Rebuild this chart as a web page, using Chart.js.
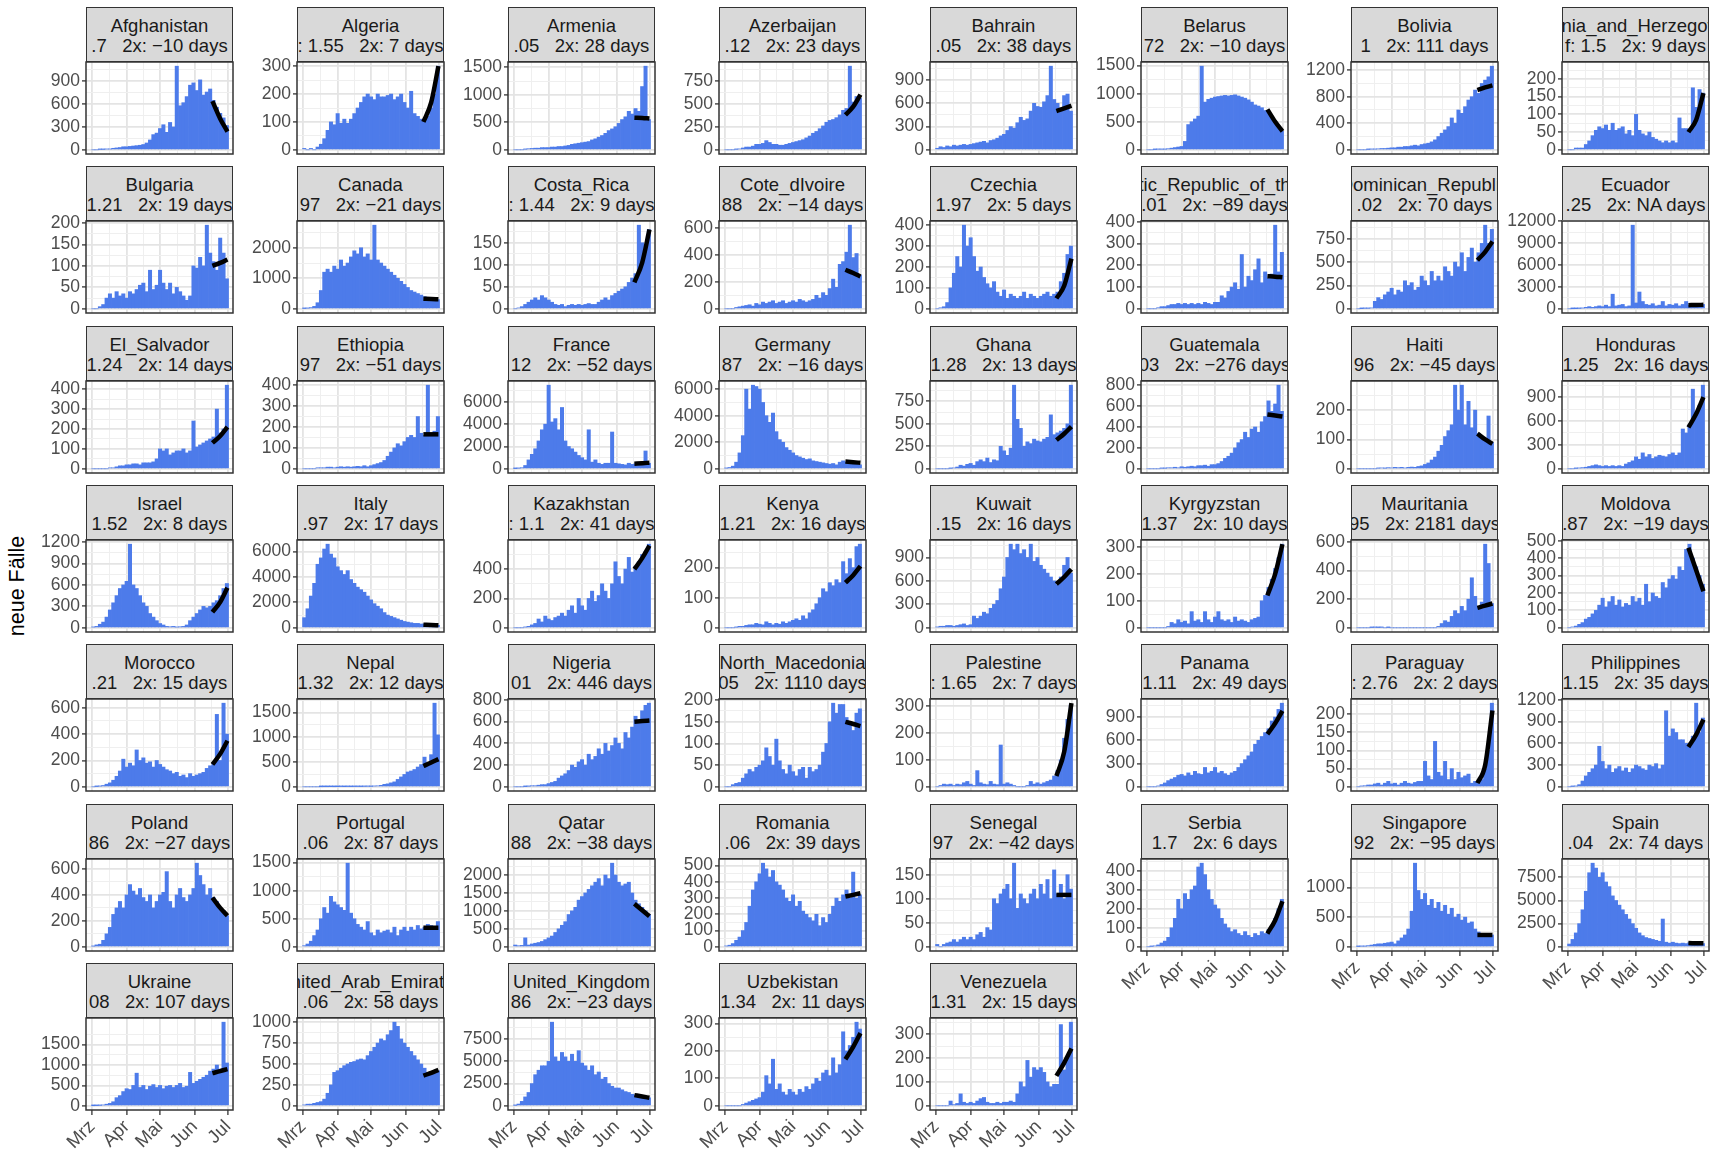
<!DOCTYPE html>
<html><head><meta charset="utf-8">
<script src="https://cdn.jsdelivr.net/npm/chart.js@4.4.0/dist/chart.umd.min.js"></script>
<style>
html,body{margin:0;padding:0;background:#fff;overflow:hidden;}
#fig{position:relative;width:1719px;height:1155px;font-family:'Liberation Sans',Arial,Helvetica,sans-serif;}
.strip{position:absolute;box-sizing:border-box;border:1.5px solid #333;background:#D9D9D9;overflow:hidden;display:flex;flex-direction:column;justify-content:center;padding-top:2px;color:#1A1A1A;font-size:18.5px;}
.strip .ln{display:flex;justify-content:center;white-space:pre;line-height:19.5px;}
canvas{position:absolute;}
#ylab{position:absolute;left:17px;top:586px;transform:translate(-50%,-50%) rotate(-90deg);font-size:21.5px;white-space:nowrap;color:#000;}
</style></head><body><div id="fig"><div id="ylab">neue Fälle</div></div>
<script>
// ---------- data ----------
const countries = ['Afghanistan','Algeria','Armenia','Azerbaijan','Bahrain','Belarus','Bolivia','Bosnia_and_Herzegovina',
'Bulgaria','Canada','Costa_Rica','Cote_dIvoire','Czechia','Democratic_Republic_of_the_Congo','Dominican_Republic','Ecuador',
'El_Salvador','Ethiopia','France','Germany','Ghana','Guatemala','Haiti','Honduras',
'Israel','Italy','Kazakhstan','Kenya','Kuwait','Kyrgyzstan','Mauritania','Moldova',
'Morocco','Nepal','Nigeria','North_Macedonia','Palestine','Panama','Paraguay','Philippines',
'Poland','Portugal','Qatar','Romania','Senegal','Serbia','Singapore','Spain',
'Ukraine','United_Arab_Emirates','United_Kingdom','Uzbekistan','Venezuela'];

const infoLines = ['.7   2x: \u221210 days',': 1.55   2x: 7 days','.05   2x: 28 days','.12   2x: 23 days','.05   2x: 38 days','72   2x: \u221210 days','1   2x: 111 days','f: 1.5   2x: 9 days',
'1.21   2x: 19 days','97   2x: \u221221 days',': 1.44   2x: 9 days','88   2x: \u221214 days','1.97   2x: 5 days','.01   2x: \u221289 days','.02   2x: 70 days','.25   2x: NA days',
'1.24   2x: 14 days','97   2x: \u221251 days','12   2x: \u221252 days','87   2x: \u221216 days','1.28   2x: 13 days','03   2x: \u2212276 days','96   2x: \u221245 days','1.25   2x: 16 days',
'1.52   2x: 8 days','.97   2x: 17 days',': 1.1   2x: 41 days','1.21   2x: 16 days','.15   2x: 16 days','1.37   2x: 10 days','95   2x: 2181 days','.87   2x: \u221219 days',
'.21   2x: 15 days','1.32   2x: 12 days','01   2x: 446 days','05   2x: 1110 days',': 1.65   2x: 7 days','1.11   2x: 49 days',': 2.76   2x: 2 days','1.15   2x: 35 days',
'86   2x: \u221227 days','.06   2x: 87 days','88   2x: \u221238 days','.06   2x: 39 days','97   2x: \u221242 days','1.7   2x: 6 days','92   2x: \u221295 days','.04   2x: 74 days',
'08   2x: 107 days','.06   2x: 58 days','86   2x: \u221223 days','1.34   2x: 11 days','1.31   2x: 15 days'];

const yTicks = [[0,300,600,900],[0,100,200,300],[0,500,1000,1500],[0,250,500,750],[0,300,600,900],[0,500,1000,1500],[0,400,800,1200],[0,50,100,150,200],
[0,50,100,150,200],[0,1000,2000],[0,50,100,150],[0,200,400,600],[0,100,200,300,400],[0,100,200,300,400],[0,250,500,750],[0,3000,6000,9000,12000],
[0,100,200,300,400],[0,100,200,300,400],[0,2000,4000,6000],[0,2000,4000,6000],[0,250,500,750],[0,200,400,600,800],[0,100,200],[0,300,600,900],
[0,300,600,900,1200],[0,2000,4000,6000],[0,200,400],[0,100,200],[0,300,600,900],[0,100,200,300],[0,200,400,600],[0,100,200,300,400,500],
[0,200,400,600],[0,500,1000,1500],[0,200,400,600,800],[0,50,100,150,200],[0,100,200,300],[0,300,600,900],[0,50,100,150,200],[0,300,600,900,1200],
[0,200,400,600],[0,500,1000,1500],[0,500,1000,1500,2000],[0,100,200,300,400,500],[0,50,100,150],[0,100,200,300,400],[0,500,1000],[0,2500,5000,7500],
[0,500,1000,1500],[0,250,500,750,1000],[0,2500,5000,7500],[0,100,200,300],[0,100,200,300]];

// upper data limit read from the picture where the visible bars do not reach it
const axisTopOverride = {Bosnia_and_Herzegovina: 236};

// day number (0 = 1 March) at the centre of each 3-day bar
const barDays = [1,4,7,10,13,16,19,22,25,28,31,34,37,40,43,46,49,52,55,58,61,64,67,70,73,76,79,82,85,88,91,94,97,100,103,106,109,112,115,118,121];
const monthDays = [0,31,61,92,122];
const monthLabels = ['Mrz','Apr','Mai','Jun','Jul'];
const trendDays = [108,115,121.5];

const afghanistan = [0,0,5,5,10,10,20,25,30,40, 40,45,50,55,60,70,90,130,200,220, 280,330,230,360,300,1100,580,620,700,850, 880,780,920,720,760,800,650,560,480,420, 320];
const algeria = [5,0,5,0,10,20,40,70,100,90, 130,95,110,95,110,130,150,170,190,200, 190,180,200,190,190,195,200,180,190,200, 170,150,210,130,120,110,110,120,150,200, 300];
const armenia = [0,0,0,10,20,25,30,30,40,40, 40,50,50,60,60,70,80,100,110,120, 130,140,150,180,200,230,260,300,350,380, 420,480,550,600,700,650,750,700,1150,1520, 550];
const azerbaijan = [0,0,0,5,10,20,30,30,40,60, 60,70,100,80,60,60,50,50,60,70, 80,90,100,110,130,150,180,200,230,260, 300,320,330,350,380,430,450,910,520,580, 560];
const bahrain = [20,40,30,50,40,60,50,60,70,60, 70,80,90,100,110,90,120,130,150,180, 200,250,300,280,350,420,380,400,500,600, 560,550,620,700,1080,650,600,540,700,720, 500];
const belarus = [0,0,5,10,10,10,20,30,40,50, 60,150,450,500,550,600,1490,850,900,920, 940,950,960,970,960,970,980,960,940,920, 890,850,800,780,750,700,650,560,480,400, 330];
const bolivia = [0,0,0,5,10,10,15,20,20,25, 30,30,40,40,50,50,60,70,60,80, 90,100,120,150,200,250,300,350,480,400, 600,550,650,750,800,900,850,1000,1050,1100, 1260];
const bosnia = [0,0,5,5,5,15,25,40,55,65, 60,70,55,75,55,60,65,45,55,40, 100,55,45,40,50,35,30,25,20,25, 20,25,20,90,60,60,55,175,120,170, 160];
const bulgaria = [0,0,5,10,25,35,25,40,30,35, 25,40,35,45,55,60,40,90,45,55, 90,60,45,60,35,50,40,30,20,30, 100,95,120,100,195,130,110,90,165,130, 70];
const canada = [10,20,40,80,200,600,1200,1300,1200,1400, 1300,1600,1400,1500,1700,1900,1800,2000,1700,1800, 1600,2740,1600,1500,1400,1300,1200,1100,1000,900, 800,700,600,550,500,450,400,350,330,320, 300];
const costaRica = [0,2,5,10,15,20,25,20,30,25, 20,15,10,8,10,5,8,10,8,10, 8,10,12,10,10,15,20,25,20,30, 35,40,45,50,60,70,80,190,150,130, 180];
const coteDivoire = [0,0,0,10,15,20,25,30,20,40, 30,50,40,50,60,40,50,60,40,50, 60,50,70,60,50,60,70,100,80,120, 100,150,220,160,330,350,420,620,380,410, 250];
const czechia = [0,5,10,30,100,170,250,200,400,300, 340,250,180,200,150,120,100,130,80,60, 90,50,70,60,50,60,80,50,70,60, 50,60,70,80,60,70,80,130,170,260, 300];
const drCongo = [0,0,0,5,10,10,15,20,20,25, 20,25,20,25,20,25,20,30,25,20, 30,30,60,50,80,100,120,90,250,100, 150,130,180,230,120,170,140,160,385,170, 260];
const dominican = [0,2,5,5,10,80,120,100,150,180, 220,150,200,180,300,250,280,200,230,350, 300,250,400,300,350,300,450,400,350,500, 450,600,400,550,650,500,600,700,895,700, 850];
const ecuador = [0,10,20,50,100,200,300,200,300,400, 300,500,300,2000,400,500,600,300,400,11450, 800,2300,1000,600,500,700,400,500,1000,400, 600,500,700,400,600,1000,500,600,500,700, 600];
const elSalvador = [0,0,0,0,0,5,5,10,15,15, 20,20,25,25,20,30,30,30,35,50, 100,90,100,70,80,90,90,100,80,90, 240,110,120,130,140,150,160,300,180,200, 420];
const ethiopia = [0,0,0,0,5,5,5,8,8,5, 8,10,8,10,8,10,12,10,15,10, 15,20,25,30,40,60,80,100,120,110, 130,150,160,150,250,170,160,400,170,180, 250];
const france = [20,50,100,300,800,1300,1800,2500,3500,4000, 7500,4200,4500,3500,5500,2500,2000,1800,1500,1200, 1000,800,3500,600,800,500,400,500,500,3300, 500,450,400,350,500,400,450,500,600,1600, 500];
const germany = [50,100,200,500,1200,2500,6000,4500,6300,6200, 6000,5000,4000,3500,4200,2800,2200,2000,1600,1400, 1200,1000,900,800,700,750,600,550,500,450, 400,350,400,300,500,600,500,450,400,350, 300];
const ghana = [0,0,0,0,5,10,20,40,30,50, 60,40,80,100,80,120,70,100,90,250, 200,150,230,930,550,450,250,300,280,330, 310,300,330,350,600,380,400,420,450,500, 930];
const guatemala = [0,0,0,0,5,5,10,10,15,10, 20,15,20,25,20,30,30,35,25,40, 40,50,70,100,120,150,200,250,280,350, 300,380,400,350,450,500,650,550,620,800, 550];
const haiti = [0,0,0,0,0,0,2,3,2,4, 3,5,4,5,3,5,6,5,8,10, 15,20,30,40,60,80,110,130,150,285, 200,285,150,230,140,200,120,110,100,180, 90];
const honduras = [0,0,5,10,15,20,30,40,50,40, 30,40,30,40,30,40,30,60,80,100, 150,120,200,150,180,130,150,170,160,150, 180,200,170,200,500,450,550,1000,700,800, 1050];
const israel = [10,20,50,80,150,250,350,450,550,600, 650,1170,600,550,450,350,300,200,150,100, 60,40,20,15,20,10,15,20,40,100, 150,200,250,300,280,300,350,380,450,550, 620];
const italy = [800,1500,2500,3500,5000,5500,6200,6580,5800,5500, 4800,4500,4200,4500,3800,3500,3200,3000,2800,2500, 2200,1900,1700,1500,1200,1000,900,800,700,600, 500,450,400,350,350,300,300,300,250,250, 200];
const kazakhstan = [0,0,0,5,10,20,30,60,40,80, 60,50,70,80,100,80,120,150,100,200, 150,120,200,250,180,220,300,250,200,300, 450,350,300,400,480,380,420,450,500,520, 570];
const kenya = [0,0,0,2,5,5,8,10,10,15, 12,10,20,15,10,15,12,20,15,20, 25,30,25,40,30,50,60,80,100,130, 120,150,140,160,150,220,180,230,200,270, 278];
const kuwait = [10,20,20,30,30,20,30,40,50,30, 40,150,120,150,200,180,250,300,350,500, 650,900,1070,1000,1070,950,1000,900,1070,850, 900,800,750,700,650,600,550,650,800,900, 700];
const kyrgyzstan = [0,0,0,0,0,0,5,20,15,30, 20,25,15,60,25,30,20,60,30,20, 40,60,30,25,30,20,40,25,30,25, 20,30,35,40,100,120,150,180,220,260, 310];
const mauritania = [0,0,0,0,2,3,2,3,0,2, 0,0,0,0,0,0,0,0,0,0, 0,0,0,0,10,30,50,40,80,120, 100,150,120,200,350,220,150,180,585,450, 170];
const moldova = [0,5,10,20,30,50,60,80,100,130, 170,120,150,180,130,160,120,140,130,180, 150,170,130,250,150,200,180,170,260,230, 280,300,280,350,330,450,480,400,350,300, 250];
const morocco = [0,2,5,10,20,30,50,80,120,210, 150,180,160,280,200,220,180,190,150,200, 170,150,130,120,100,110,80,90,70,100, 80,90,100,110,140,160,180,550,200,635, 400];
const nepal = [0,0,0,0,0,1,2,2,3,2, 3,5,3,5,4,5,6,5,8,10, 8,15,20,30,50,60,80,100,150,200, 250,300,320,350,400,450,600,450,650,1690, 1050];
const nigeria = [0,0,0,2,5,10,10,15,20,20, 30,40,50,80,100,120,150,200,180,230, 250,200,300,250,280,350,300,400,330,380, 450,400,350,500,450,550,650,600,700,750, 770];
const northMacedonia = [0,0,5,8,10,20,30,40,35,45, 50,60,90,70,50,110,60,40,30,50, 35,25,40,45,20,45,35,40,50,80, 100,150,193,170,190,190,160,150,130,170, 180];
const palestine = [0,5,10,8,10,5,10,8,15,20, 10,5,60,15,10,8,20,10,8,155, 10,15,10,5,0,0,0,5,20,10, 15,10,15,20,25,40,60,100,180,250, 305];
const panama = [0,0,0,10,30,50,80,100,120,150, 160,140,180,150,200,170,160,250,180,200, 250,180,200,170,150,180,200,250,300,350, 400,450,550,600,650,700,750,850,900,1000, 1080];
const paraguay = [0,2,3,5,5,8,10,5,10,15, 8,10,5,10,15,10,8,12,15,15, 70,30,20,125,40,30,70,20,50,20, 40,25,30,35,10,15,10,20,50,100, 230];
const philippines = [0,5,10,30,80,150,200,250,300,560, 350,250,300,200,250,280,220,260,200,250, 300,280,250,230,300,280,320,250,300,1050, 700,800,750,650,650,600,550,700,1155,750, 950];
const poland = [5,15,20,50,100,150,250,300,350,300, 400,480,430,400,450,380,350,400,300,350, 400,420,580,350,300,400,450,380,350,400, 450,645,550,480,400,450,380,350,300,280, 240];
const portugal = [20,50,100,200,300,500,700,600,900,800, 750,700,650,1490,600,500,400,350,300,450, 250,200,300,250,280,300,250,350,200,300, 350,280,350,300,380,320,350,400,380,350, 450];
const qatar = [50,30,40,250,50,80,100,120,150,200, 250,300,400,500,600,700,900,1000,1100,1300, 1400,1500,1600,1700,1800,1900,1700,2000,1900,2330, 2000,1800,1700,1750,1800,1500,1300,1200,1100,1000, 900];
const romania = [5,10,20,40,60,100,150,250,350,400, 450,515,480,430,470,400,380,350,300,280, 320,250,280,220,200,180,160,200,130,180, 150,200,250,300,280,320,350,300,460,300, 320];
const senegal = [5,0,5,8,10,15,10,15,20,15, 20,15,25,30,20,40,35,100,90,110, 120,130,100,174,80,110,100,90,110,120, 100,130,110,140,100,160,110,130,100,150, 120];
const serbia = [0,2,5,10,20,30,50,100,150,250, 200,280,250,300,320,420,440,380,300,250, 220,200,150,120,100,80,90,70,60,80, 60,50,70,60,80,70,90,100,150,200, 250];
const singapore = [5,10,10,20,30,40,50,50,60,70, 80,50,100,150,200,300,600,1410,950,800, 900,700,800,650,750,600,700,550,650,500, 550,450,500,400,420,300,250,200,200,220, 200];
const spain = [300,800,1500,2500,4000,6000,8000,9030,8500,7500, 8000,7000,6500,5500,5000,4500,4000,3500,3000,2500, 2000,1500,1200,1000,900,800,700,600,3000,500, 400,500,400,350,400,350,450,400,350,400, 350];
const ukraine = [2,5,10,20,40,60,100,200,250,350, 420,400,500,800,450,500,400,480,520,450, 500,420,480,500,450,500,550,450,480,820, 550,600,650,700,750,850,900,1000,900,2050, 1050];
const uae = [10,20,20,30,40,50,80,150,250,400, 420,450,480,500,520,530,550,560,550,600, 650,700,750,800,780,850,900,1000,950,800, 750,700,650,600,550,500,450,400,380,400, 420];
const uk = [50,200,500,1000,1500,2500,3500,4000,4500,4500, 5000,9400,5500,5000,6000,5500,5000,5800,5000,6200, 4800,4500,4000,4500,3500,3800,3000,3200,2500,2200, 2000,2000,1800,1600,1500,1300,1200,1100,1000,1000, 900];
const uzbekistan = [0,0,0,0,0,5,10,15,20,25, 30,50,110,80,170,60,80,50,40,60, 50,40,60,50,70,60,80,100,90,120, 130,110,175,120,150,270,200,220,250,305, 280];
const venezuela = [0,0,0,0,20,5,10,50,15,10, 15,10,20,30,35,15,10,10,15,10, 15,15,20,15,50,100,80,190,120,160, 150,160,140,100,80,90,90,340,150,200, 350];

const series = [afghanistan,algeria,armenia,azerbaijan,bahrain,belarus,bolivia,bosnia,
bulgaria,canada,costaRica,coteDivoire,czechia,drCongo,dominican,ecuador,
elSalvador,ethiopia,france,germany,ghana,guatemala,haiti,honduras,
israel,italy,kazakhstan,kenya,kuwait,kyrgyzstan,mauritania,moldova,
morocco,nepal,nigeria,northMacedonia,palestine,panama,paraguay,philippines,
poland,portugal,qatar,romania,senegal,serbia,singapore,spain,
ukraine,uae,uk,uzbekistan,venezuela];

const trendValues = [[640,410,240],[100,170,300],[585,580,570],[380,470,600],[500,535,570],[720,500,330],[900,940,970],[50,85,160],
[100,107,115],[330,320,315],[60,105,180],[290,265,240],[50,110,240],[150,148,145],[520,610,720],[500,520,550],
[130,165,210],[165,165,165],[450,500,550],[550,500,450],[320,390,470],[520,510,500],[120,100,85],[520,690,900],
[220,360,560],[250,225,200],[400,475,560],[150,175,205],[560,650,750],[120,200,310],[140,155,170],[460,330,210],
[170,250,350],[420,490,560],[600,605,610],[150,145,140],[40,130,310],[680,820,980],[10,60,210],[550,720,930],
[380,300,240],[340,340,340],[1200,1020,850],[310,320,330],[108,108,108],[70,140,240],[200,200,200],[400,390,380],
[800,850,900],[360,395,430],[1200,1050,900],[170,215,265],[125,180,240]];

// ---------- layout / style ----------
const FONT = "'Liberation Sans', Arial, Helvetica, sans-serif";
const barColor = '#4D7BEA';
const plotW = 147, plotH = 92, stripH = 55;
const colX0 = 86, colStep = 210.9, rowY0 = 62, rowStep = 159.3;
const yAxisW = 60, pad = 14, xAxisH = 52;
const nCols = 8;

const framePlugin = {
  id: 'frame',
  afterDraw(chart) {
    const a = chart.chartArea, ctx = chart.ctx;
    ctx.save();
    ctx.strokeStyle = '#333333';
    ctx.lineWidth = 1.5;
    ctx.strokeRect(a.left, a.top, a.right - a.left, a.bottom - a.top);
    ctx.restore();
  }
};

function yTickObjects(majors, lo, hi) {
  const step = majors[1] - majors[0];
  const ext = [majors[0] - step].concat(majors, [majors[majors.length - 1] + step]);
  const out = majors.map(v => ({value: v, isMinor: false}));
  for (let k = 0; k < ext.length - 1; k++) out.push({value: (ext[k] + ext[k + 1]) / 2, isMinor: true});
  return out.filter(t => t.value >= lo && t.value <= hi).sort((a, b) => a.value - b.value);
}
function xTickObjects(lo, hi) {
  const out = monthDays.map(v => ({value: v, isMinor: false}));
  for (let k = 0; k < monthDays.length - 1; k++) out.push({value: (monthDays[k] + monthDays[k + 1]) / 2, isMinor: true});
  return out.filter(t => t.value >= lo && t.value <= hi).sort((a, b) => a.value - b.value);
}
const isMinor = ctx => !!(ctx.tick && ctx.tick.isMinor);
const gridStyle = {
  color: ctx => isMinor(ctx) ? '#EFEFEF' : '#E4E4E4',
  lineWidth: ctx => isMinor(ctx) ? 1 : 1.8,
  tickColor: ctx => isMinor(ctx) ? 'rgba(0,0,0,0)' : '#333333',
  tickWidth: 1.3,
  tickLength: 4,
  offset: false
};

const fig = document.getElementById('fig');
const X_MIN = -5.5, X_MAX = 126.5;

countries.forEach((name, i) => {
  const c = i % nCols, r = Math.floor(i / nCols);
  const left = Math.round(colX0 + colStep * c);
  const top = Math.round(rowY0 + rowStep * r);
  const isBottom = i + nCols >= countries.length;

  // strip
  const strip = document.createElement('div');
  strip.className = 'strip';
  strip.style.left = left + 'px';
  strip.style.top = (top - stripH) + 'px';
  strip.style.width = plotW + 'px';
  strip.style.height = stripH + 'px';
  [name, infoLines[i]].forEach(t => {
    const ln = document.createElement('div'); ln.className = 'ln';
    const sp = document.createElement('span'); sp.textContent = t;
    ln.appendChild(sp); strip.appendChild(ln);
  });
  fig.appendChild(strip);

  // canvas
  const W = yAxisW + plotW + pad;
  const H = pad + plotH + (isBottom ? xAxisH : pad);
  const cv = document.createElement('canvas');
  cv.width = W; cv.height = H;
  cv.style.left = (left - yAxisW) + 'px';
  cv.style.top = (top - pad) + 'px';
  cv.style.width = W + 'px'; cv.style.height = H + 'px';
  fig.appendChild(cv);

  const vals = series[i];
  const tv = trendValues[i];
  const dataMax = axisTopOverride[name] !== undefined ? axisTopOverride[name] : Math.max(...vals, ...tv);
  const yMin = -0.05 * dataMax, yMax = 1.05 * dataMax;
  const majors = yTicks[i];

  new Chart(cv, {
    type: 'bar',
    data: {
      datasets: [
        {
          type: 'line',
          data: trendDays.map((d, k) => ({x: d, y: tv[k]})),
          borderColor: '#000000', borderWidth: 4.5, pointRadius: 0,
          tension: 0.4, cubicInterpolationMode: 'monotone', fill: false,
          borderCapStyle: 'butt', order: 0
        },
        {
          type: 'bar',
          data: barDays.map((d, k) => ({x: d, y: vals[k]})),
          backgroundColor: barColor, borderWidth: 0,
          barPercentage: 1, categoryPercentage: 1, order: 1
        }
      ]
    },
    options: {
      responsive: false, animation: false, events: [],
      layout: {padding: {top: pad, right: pad, bottom: isBottom ? 0 : pad, left: 0}},
      plugins: {legend: {display: false}, tooltip: {enabled: false}, title: {display: false}},
      scales: {
        x: {
          type: 'linear', min: X_MIN, max: X_MAX, bounds: 'data', offset: false,
          grid: Object.assign({}, gridStyle, {drawTicks: isBottom, tickLength: 5}),
          border: {display: false},
          afterBuildTicks: s => { s.ticks = xTickObjects(X_MIN, X_MAX); },
          afterFit: s => { s.height = isBottom ? xAxisH : 0; },
          ticks: {
            display: isBottom, autoSkip: false, minRotation: 45, maxRotation: 45, padding: 1,
            color: '#4D4D4D', font: {family: FONT, size: 18.5},
            callback: (v, idx, ticks) => ticks[idx].isMinor ? '' : monthLabels[monthDays.indexOf(v)]
          }
        },
        y: {
          type: 'linear', min: yMin, max: yMax, bounds: 'data', beginAtZero: false,
          grid: Object.assign({}, gridStyle, {drawTicks: true}),
          border: {display: false},
          afterBuildTicks: s => { s.ticks = yTickObjects(majors, yMin, yMax); },
          afterFit: s => { s.width = yAxisW; },
          ticks: {
            autoSkip: false, padding: 2, color: '#4D4D4D', font: {family: FONT, size: 17.5},
            callback: (v, idx, ticks) => ticks[idx].isMinor ? '' : String(v)
          }
        }
      }
    },
    plugins: [framePlugin]
  });
});
</script></body></html>
